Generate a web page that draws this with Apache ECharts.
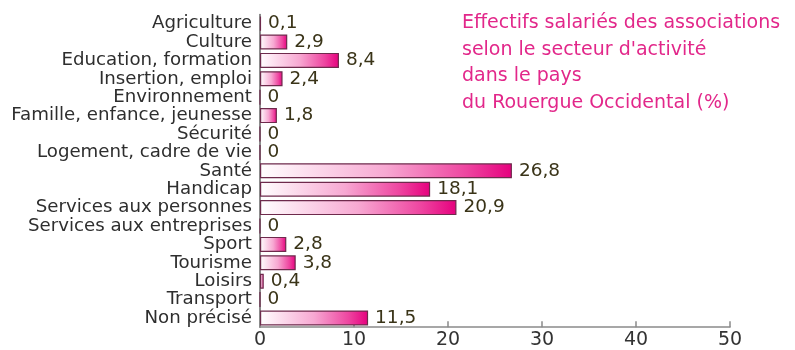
<!DOCTYPE html>
<html>
<head>
<meta charset="utf-8">
<script src="https://cdn.jsdelivr.net/npm/echarts@6/dist/echarts.min.js"></script>
<style>
  html, body { margin: 0; padding: 0; background: #ffffff; }
  #chart { width: 795px; height: 350px; }
</style>
</head>
<body>
<div id="chart"></div>
<script>
// Salaried staff of associations by sector (%)
const categories = [
  'Agriculture', 'Culture', 'Education, formation', 'Insertion, emploi',
  'Environnement', 'Famille, enfance, jeunesse', 'Sécurité',
  'Logement, cadre de vie', 'Santé', 'Handicap', 'Services aux personnes',
  'Services aux entreprises', 'Sport', 'Tourisme', 'Loisirs', 'Transport',
  'Non précisé'
];
const values = [0.1, 2.9, 8.4, 2.4, 0, 1.8, 0, 0, 26.8, 18.1, 20.9, 0, 2.8, 3.8, 0.4, 0, 11.5];
const xTicks = [0, 10, 20, 30, 40, 50];
const titleLines = [
  'Effectifs salariés des associations',
  'selon le secteur d\'activité',
  'dans le pays',
  'du Rouergue Occidental (%)'
];

const chart = echarts.init(document.getElementById('chart'));
const font = '"DejaVu Sans", Verdana, sans-serif';

chart.setOption({
  backgroundColor: '#ffffff',
  animation: false,
  title: {
    text: titleLines.join('\n'),
    left: 457,
    top: 5,
    textStyle: {
      color: '#e2278a',
      fontFamily: font,
      fontSize: 19,
      fontWeight: 'normal',
      lineHeight: 26.5
    }
  },
  grid: { left: 260, right: 65, top: 14.4, bottom: 22.8, containLabel: false },
  xAxis: {
    type: 'value',
    min: xTicks[0],
    max: xTicks[xTicks.length - 1],
    interval: 10,
    splitLine: { show: false },
    axisLine: { show: true, lineStyle: { color: '#8a8a8a', width: 1.5 } },
    axisTick: { show: true, inside: true, length: 6, lineStyle: { color: '#8a8a8a', width: 1.5 } },
    axisLabel: { color: '#333333', fontFamily: font, fontSize: 19, margin: 3 }
  },
  yAxis: {
    type: 'category',
    data: categories,
    inverse: true,
    axisLine: { show: true, lineStyle: { color: '#666666', width: 1.5 } },
    axisTick: { show: false },
    axisLabel: { interval: 0, color: '#2e2e2e', fontFamily: font, fontSize: 18.2, margin: 8, lineHeight: 18 }
  },
  series: [{
    type: 'bar',
    data: values,
    barWidth: 15,
    itemStyle: {
      color: new echarts.graphic.LinearGradient(0, 0, 1, 0, [
        { offset: 0, color: '#ffffff' },
        { offset: 0.5, color: '#f7a8d2' },
        { offset: 0.82, color: '#ee45a0' },
        { offset: 1, color: '#e6007e' }
      ]),
      borderColor: '#6e2a4c',
      borderWidth: 1.2
    },
    label: {
      show: true,
      position: 'right',
      distance: 7,
      color: '#3a3418',
      fontFamily: font,
      fontSize: 18.5,
      formatter: p => String(p.value).replace('.', ',')
    }
  }]
});
</script>
</body>
</html>
